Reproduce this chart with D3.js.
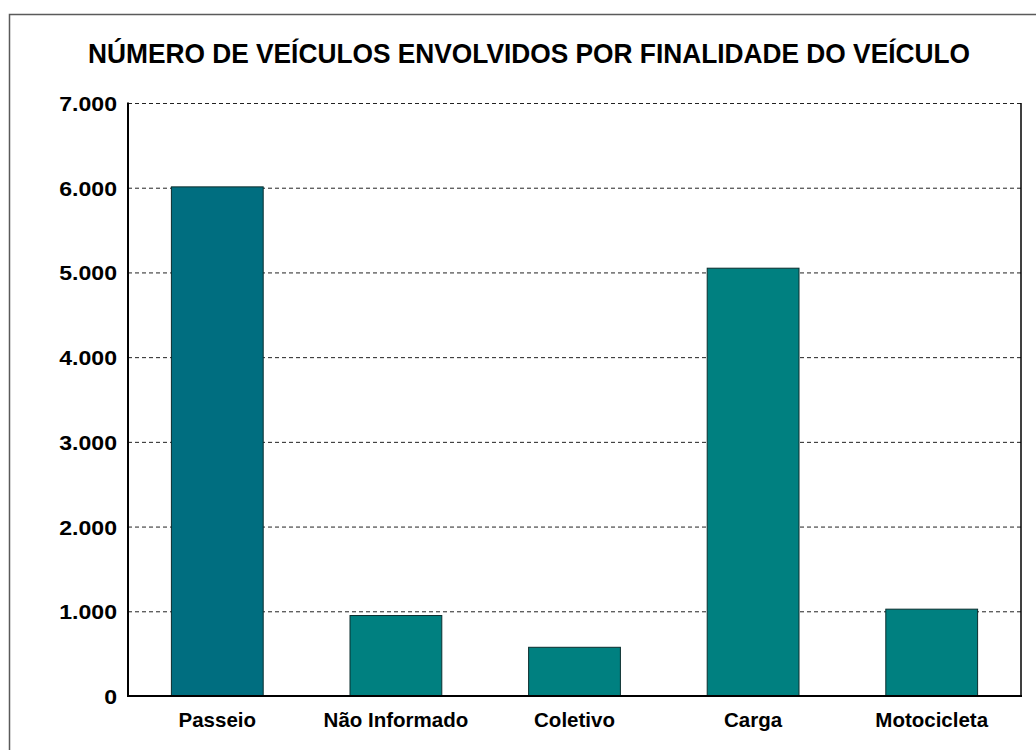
<!DOCTYPE html>
<html><head><meta charset="utf-8">
<script src="https://cdn.jsdelivr.net/npm/d3@7"></script>
<style>body{margin:0;background:#fff}svg{display:block}</style>
</head><body>
<svg id="c" width="1036" height="750"></svg>
<script>
const categories = ["Passeio", "Não Informado", "Coletivo", "Carga", "Motocicleta"];
const values = [6010, 950, 575, 5050, 1025];
const barColors = ["#006E80", "#008080", "#008080", "#008080", "#008080"];
const yTicks = [0, 1000, 2000, 3000, 4000, 5000, 6000, 7000];
const title = "NÚMERO DE VEÍCULOS ENVOLVIDOS POR FINALIDADE DO VEÍCULO";

const svg = d3.select("#c");
const L = 128, R = 1021, T = 103, B = 696;
const loc = d3.formatLocale({decimal: ",", thousands: ".", grouping: [3], currency: ["", ""]});
const fmt = loc.format(",d");

const x = d3.scaleBand().domain(categories).range([L, R]).paddingInner(0.486).paddingOuter(0.243);
const y = d3.scaleLinear().domain([0, 7000]).range([B, T]);

// outer chart border (extends past the window)
svg.append("path").attr("d", `M9.5,760V14.5H1040`).attr("fill", "none")
  .attr("stroke", "#5a5a5a").attr("stroke-width", 1.5);

// title
const tt = svg.append("text").attr("x", 529).attr("y", 63).attr("text-anchor", "middle")
  .attr("font-family", "Liberation Sans, Arial, sans-serif").attr("font-weight", "bold")
  .attr("font-size", 28).attr("fill", "#000").text(title);
tt.attr("textLength", 882).attr("lengthAdjust", "spacingAndGlyphs");

// gridlines
const grid = svg.append("g").attr("transform", `translate(${L},0)`)
  .call(d3.axisLeft(y).tickValues(yTicks.filter(d => d > 0)).tickSize(-(R - L)).tickFormat(""));
grid.select(".domain").remove();
grid.selectAll("line").attr("stroke", "#222").attr("stroke-width", 1).attr("stroke-dasharray", "4,3");

// bars
svg.append("g").selectAll("rect").data(categories).join("rect")
  .attr("x", d => x(d)).attr("width", x.bandwidth())
  .attr("y", (d, i) => y(values[i])).attr("height", (d, i) => y(0) - y(values[i]))
  .attr("fill", (d, i) => barColors[i]).attr("stroke", "#0b2e2e").attr("stroke-width", 1);

// frame lines
svg.append("line").attr("x1", R).attr("x2", R).attr("y1", T).attr("y2", B)
  .attr("stroke", "#000").attr("stroke-width", 1.5);
svg.append("line").attr("x1", L).attr("x2", L).attr("y1", T - 0.5).attr("y2", B + 1)
  .attr("stroke", "#000").attr("stroke-width", 2);
svg.append("line").attr("x1", L - 1).attr("x2", R + 1).attr("y1", B).attr("y2", B)
  .attr("stroke", "#000").attr("stroke-width", 2);

// y axis labels
const ya = svg.append("g").attr("transform", `translate(${L},0)`)
  .call(d3.axisLeft(y).tickValues(yTicks).tickSize(0).tickPadding(11).tickFormat(fmt));
ya.select(".domain").remove();
ya.selectAll("text").attr("font-family", "Liberation Sans, Arial, sans-serif").attr("font-weight", "bold")
  .attr("font-size", 21).attr("fill", "#000").attr("dy", "0.36em")
  .each(function() {
    const w = this.getComputedTextLength();
    d3.select(this).attr("textLength", w * 1.1).attr("lengthAdjust", "spacingAndGlyphs");
  });

// x axis labels
const xa = svg.append("g").attr("transform", `translate(0,${B})`)
  .call(d3.axisBottom(x).tickSize(0).tickPadding(16));
xa.select(".domain").remove();
xa.selectAll("text").attr("font-family", "Liberation Sans, Arial, sans-serif").attr("font-weight", "bold")
  .attr("font-size", 20.5).attr("fill", "#000");
</script>
</body></html>
